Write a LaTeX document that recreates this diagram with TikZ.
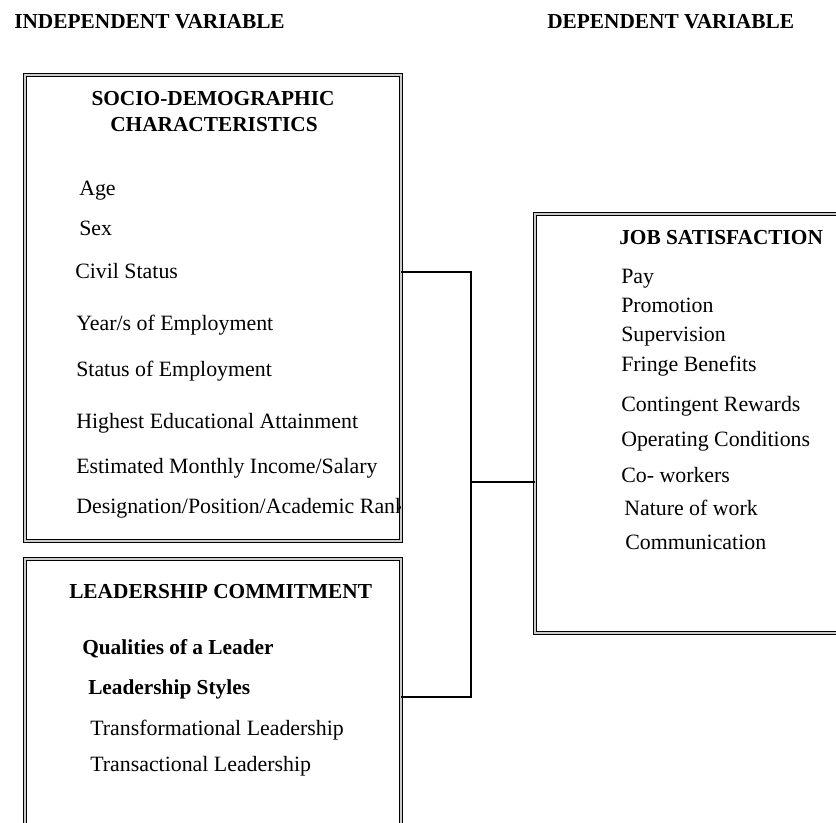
\documentclass[tikz,border=0pt]{standalone}
\usepackage{fontspec}
\setmainfont{Liberation Serif}
\usetikzlibrary{positioning}
\tikzset{
	varbox/.style={draw, double=black!20, line width=0.9pt, double distance=1.2pt, inner sep=0pt, outer sep=0pt, anchor=north west},
	head/.style={font=\fontsize{16}{18}\selectfont\bfseries, inner sep=0pt},
	item/.style={font=\fontsize{16.4}{18}\selectfont, anchor=base west, inner sep=0pt},
	bitem/.style={item, font=\fontsize{16}{18}\selectfont\bfseries},
	link/.style={line width=0.8pt},
}
\begin{document}
\begin{tikzpicture}[x=0.75pt, y=-0.75pt]
		\clip (0,0) rectangle (836,822);
		\node[head, anchor=base west] (indep) at (14,28) {INDEPENDENT VARIABLE};
		\node[head, anchor=base west] (dep) at (547,28) {DEPENDENT VARIABLE};

		\node[varbox, minimum width=282pt, minimum height=349.5pt] (socio) at (25,75) {};
		\node[head, anchor=base] (sociotitle) at (213,105) {SOCIO-DEMOGRAPHIC};
		\node[head, anchor=base] (sociotitleb) at (214,131) {CHARACTERISTICS};
		\node[item] (age) at (79,195) {Age};
		\node[item] (sex) at (79,235) {Sex};
		\node[item] (civil) at (75,278) {Civil Status};
		\node[item] (years) at (76,330) {Year/s of Employment};
		\node[item] (status) at (76,376) {Status of Employment};
		\node[item] (educ) at (76,428) {Highest Educational Attainment};
		\node[item] (income) at (76,473) {Estimated Monthly Income/Salary};
		\begin{scope}
			\clip (0,0) rectangle (400,822);
			\node[item] (rank) at (76,513) {Designation/Position/Academic Rank};
		\end{scope}

		\node[varbox, minimum width=282pt, minimum height=225pt] (lead) at (25,559) {};
		\node[head, anchor=base west] (leadtitle) at (69,598) {LEADERSHIP COMMITMENT};
		\node[bitem] (qual) at (82,654) {Qualities of a Leader};
		\node[bitem] (styles) at (88,694) {Leadership Styles};
		\node[item] (transf) at (90,735) {Transformational Leadership};
		\node[item] (transa) at (90,771) {Transactional Leadership};

		\node[varbox, minimum width=240pt, minimum height=314.25pt] (job) at (535,214) {};
		\node[head, anchor=base west] (jobtitle) at (619,244) {JOB SATISFACTION};
		\node[item] (pay) at (621,283) {Pay};
		\node[item] (promo) at (621,312) {Promotion};
		\node[item] (super) at (621,341) {Supervision};
		\node[item] (fringe) at (621,371) {Fringe Benefits};
		\node[item] (reward) at (621,411) {Contingent Rewards};
		\node[item] (oper) at (621,446) {Operating Conditions};
		\node[item] (cowork) at (621,482) {Co- workers};
		\node[item] (nature) at (624,515) {Nature of work};
		\node[item] (comm) at (625,549) {Communication};

		\coordinate (jtop) at (471,272);
		\coordinate (jmid) at (471,482);
		\coordinate (jbot) at (471,697);
		\draw[link] (jtop -| socio.east) -- (jtop) -- (jbot) -- (jbot -| lead.east);
		\draw[link] (jmid) -- (jmid -| job.west);
	\end{tikzpicture}
\end{document}
